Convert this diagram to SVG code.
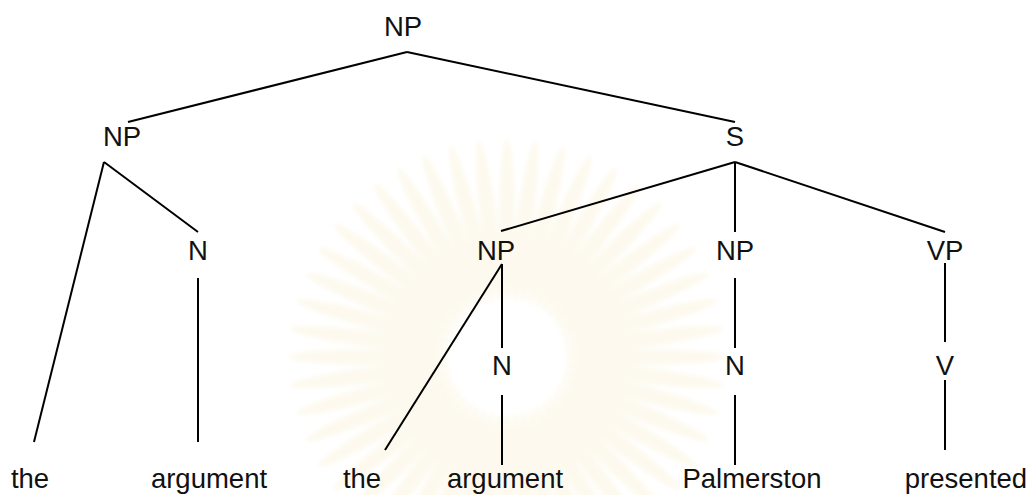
<svg xmlns="http://www.w3.org/2000/svg" width="1030" height="495" viewBox="0 0 1030 495">
<defs>
<style>
text{font-family:"Liberation Sans",Arial,sans-serif;font-size:27.5px;fill:#111;text-anchor:middle}
.c line{stroke:#000;stroke-width:2;stroke-linecap:butt}
.ray{fill:#fdf9ee}
</style>
<filter id="soft"><feGaussianBlur stdDeviation="2"/></filter>
<ellipse id="petal" class="ray" cx="138" cy="0" rx="80" ry="8"/>
</defs>
<rect width="1030" height="495" fill="#fff"/>
<g id="watermark" transform="translate(507,357)" filter="url(#soft)">
<use href="#petal" transform="rotate(0)"/><use href="#petal" transform="rotate(7.5)"/><use href="#petal" transform="rotate(15)"/><use href="#petal" transform="rotate(22.5)"/><use href="#petal" transform="rotate(30)"/><use href="#petal" transform="rotate(37.5)"/><use href="#petal" transform="rotate(45)"/><use href="#petal" transform="rotate(52.5)"/><use href="#petal" transform="rotate(60)"/><use href="#petal" transform="rotate(67.5)"/><use href="#petal" transform="rotate(75)"/><use href="#petal" transform="rotate(82.5)"/><use href="#petal" transform="rotate(90)"/><use href="#petal" transform="rotate(97.5)"/><use href="#petal" transform="rotate(105)"/><use href="#petal" transform="rotate(112.5)"/><use href="#petal" transform="rotate(120)"/><use href="#petal" transform="rotate(127.5)"/><use href="#petal" transform="rotate(135)"/><use href="#petal" transform="rotate(142.5)"/><use href="#petal" transform="rotate(150)"/><use href="#petal" transform="rotate(157.5)"/><use href="#petal" transform="rotate(165)"/><use href="#petal" transform="rotate(172.5)"/><use href="#petal" transform="rotate(180)"/><use href="#petal" transform="rotate(187.5)"/><use href="#petal" transform="rotate(195)"/><use href="#petal" transform="rotate(202.5)"/><use href="#petal" transform="rotate(210)"/><use href="#petal" transform="rotate(217.5)"/><use href="#petal" transform="rotate(225)"/><use href="#petal" transform="rotate(232.5)"/><use href="#petal" transform="rotate(240)"/><use href="#petal" transform="rotate(247.5)"/><use href="#petal" transform="rotate(255)"/><use href="#petal" transform="rotate(262.5)"/><use href="#petal" transform="rotate(270)"/><use href="#petal" transform="rotate(277.5)"/><use href="#petal" transform="rotate(285)"/><use href="#petal" transform="rotate(292.5)"/><use href="#petal" transform="rotate(300)"/><use href="#petal" transform="rotate(307.5)"/><use href="#petal" transform="rotate(315)"/><use href="#petal" transform="rotate(322.5)"/><use href="#petal" transform="rotate(330)"/><use href="#petal" transform="rotate(337.5)"/><use href="#petal" transform="rotate(345)"/><use href="#petal" transform="rotate(352.5)"/>
</g>
<g id="connectors" class="c">
<line x1="407" y1="52" x2="128" y2="122"/>
<line x1="407" y1="52" x2="735" y2="122"/>
<line x1="104" y1="162" x2="34" y2="442"/>
<line x1="104" y1="162" x2="198" y2="232"/>
<line x1="198" y1="278" x2="198" y2="442"/>
<line x1="735" y1="162" x2="501" y2="231"/>
<line x1="735" y1="162" x2="735" y2="232"/>
<line x1="735" y1="162" x2="945" y2="232"/>
<line x1="502" y1="264" x2="385" y2="450"/>
<line x1="502" y1="264" x2="502" y2="348"/>
<line x1="502" y1="395" x2="502" y2="465"/>
<line x1="735" y1="278" x2="735" y2="348"/>
<line x1="735" y1="395" x2="735" y2="465"/>
<line x1="945" y1="263" x2="945" y2="342"/>
<line x1="945" y1="380" x2="945" y2="450"/>
</g>
<g id="n-root"><text x="403" y="36">NP</text></g>
<g id="n-np1"><text x="122" y="146">NP</text></g>
<g id="n-s"><text x="735" y="146">S</text></g>
<g id="n-n1"><text x="198" y="260">N</text></g>
<g id="n-np2"><text x="496" y="260">NP</text></g>
<g id="n-np3"><text x="735" y="260">NP</text></g>
<g id="n-vp"><text x="945" y="260">VP</text></g>
<g id="n-n2"><text x="502" y="375">N</text></g>
<g id="n-n3"><text x="735" y="375">N</text></g>
<g id="n-v"><text x="945" y="375">V</text></g>
<g id="w-the1"><text x="30" y="488">the</text></g>
<g id="w-arg1"><text x="209" y="488">argument</text></g>
<g id="w-the2"><text x="362" y="488">the</text></g>
<g id="w-arg2"><text x="505" y="488">argument</text></g>
<g id="w-palm"><text x="752" y="488">Palmerston</text></g>
<g id="w-pres"><text x="966" y="488">presented</text></g>
</svg>
